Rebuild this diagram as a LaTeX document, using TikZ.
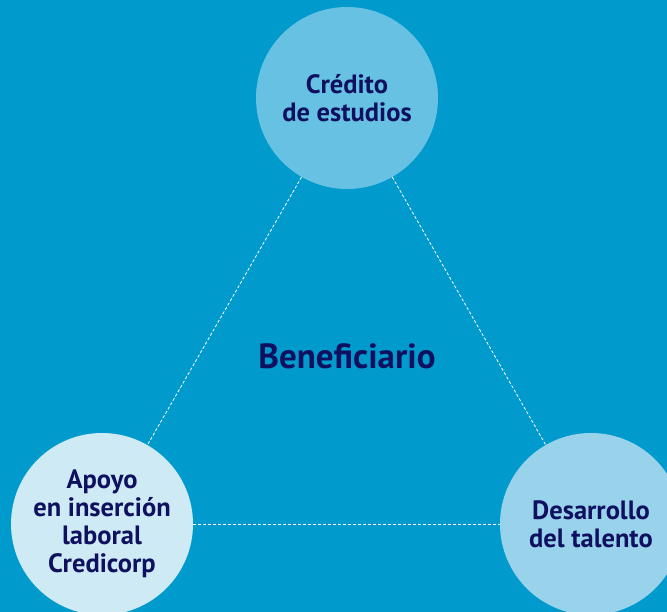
\documentclass[tikz,border=0pt]{standalone}
\usepackage{fontspec}
\setmainfont{PT Sans}
\usetikzlibrary{positioning}
\definecolor{fondo}{RGB}{0,154,204}
\definecolor{circa}{RGB}{102,193,227}
\definecolor{circb}{RGB}{205,234,245}
\definecolor{circc}{RGB}{153,211,235}
\definecolor{texto}{RGB}{16,16,96}
\tikzset{
  bubble/.style={circle, minimum size=182pt, inner sep=0pt, align=center,
    text=texto, font=\fontsize{26.5}{28}\selectfont\bfseries},
  link/.style={draw=white, line width=0.8pt, dash pattern=on 3pt off 2pt}
}
\begin{document}
\begin{tikzpicture}[x=1pt, y=-1pt]
    \path[fill=fondo] (0, 0) rectangle (667, 612);
    \useasboundingbox (0, 0) rectangle (667, 612);
    \clip (0, 0) rectangle (667, 612);

    \coordinate (ctop) at (347, 98);
    \coordinate (cleft) at (102, 524);
    \coordinate (cright) at (591, 524);

    \node[bubble, fill=circa] (credito) at (ctop) {Crédito\\de estudios};
    \node[bubble, fill=circb] (apoyo) at (cleft) {Apoyo\\en inserción\\laboral\\Credicorp};
    \node[bubble, fill=circc] (talento) at (cright) {Desarrollo\\del talento};

    \path[link] (credito) -- (apoyo);
    \path[link] (credito) -- (talento);
    \path[link] (apoyo) -- (talento);

    \node[text=texto, font=\fontsize{35}{40}\selectfont\bfseries] (benef) at (347, 356) {Beneficiario};
\end{tikzpicture}
\end{document}
